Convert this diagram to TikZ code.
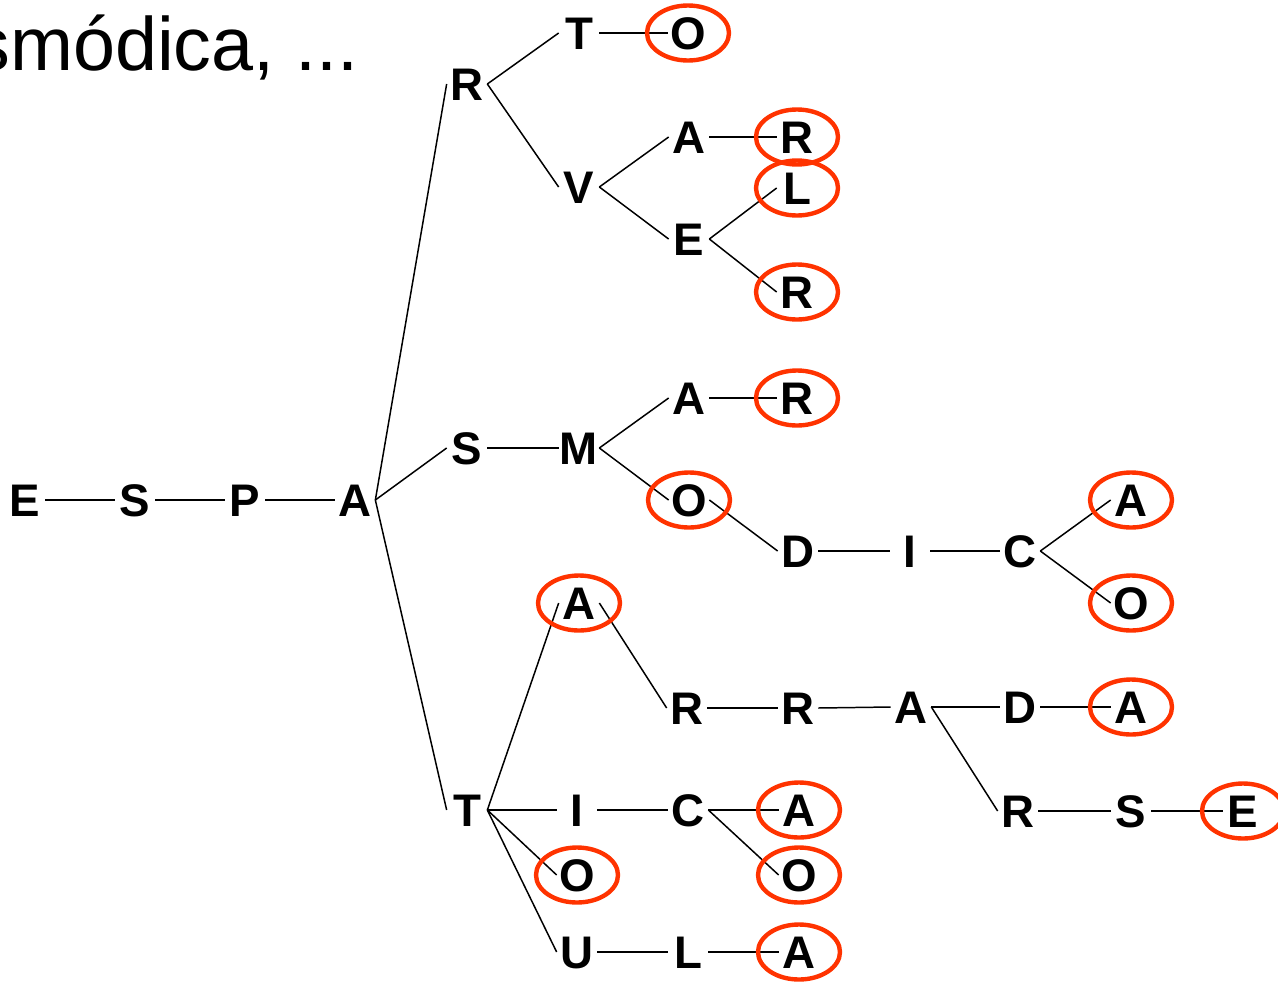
\documentclass[tikz,border=0pt]{standalone}
\usepackage{fontspec}
\setmainfont{Liberation Sans}
\definecolor{RingRed}{RGB}{255, 51, 0}

\begin{document}
\begin{tikzpicture}[x=0.02cm, y=-0.02cm,
    letter/.style={font=\fontsize{26}{26}\selectfont\bfseries, inner sep=0pt,
                   minimum width=0.8cm, text height=0.66cm, text depth=0pt},
    link/.style={line width=0.85pt, black},
    ring/.style={draw=RingRed, line width=2.5pt}]
    \useasboundingbox (0,0) rectangle (1278,981);

    % Heading, cut at the left edge
    \node[anchor=base east, inner sep=0pt, font=\fontsize{43}{43}\selectfont] (title) at (359,70) {smódica, ...};

    % Stem
    \node[letter] (e)    at (25,500)  {E};
    \node[letter] (es)   at (135,500) {S};
    \node[letter] (esp)  at (245,500) {P};
    \node[letter] (espa) at (355,500) {A};

    % Branch R
    \node[letter] (espar)    at (467,84)  {R};
    \node[letter] (espart)   at (579,33)  {T};
    \node[letter] (esparto)  at (688,33)  {O};
    \node[letter] (esparv)   at (579,187) {V};
    \node[letter] (esparva)  at (689,137) {A};
    \node[letter] (esparvar) at (797,137) {R};
    \node[letter] (esparve)  at (689,239) {E};
    \node[letter] (esparvel) at (797,188) {L};
    \node[letter] (esparver) at (797,292) {R};

    % Branch S
    \node[letter] (espas)       at (467,448)  {S};
    \node[letter] (espasm)      at (579,448)  {M};
    \node[letter] (espasma)     at (689,398)  {A};
    \node[letter] (espasmar)    at (797,398)  {R};
    \node[letter] (espasmo)     at (689,500)  {O};
    \node[letter] (espasmod)    at (798,551)  {D};
    \node[letter] (espasmodi)   at (910,551)  {I};
    \node[letter] (espasmodic)  at (1020,551) {C};
    \node[letter] (espasmodica) at (1131,500) {A};
    \node[letter] (espasmodico) at (1131,603) {O};

    % Branch T
    \node[letter] (espat)        at (467,810)  {T};
    \node[letter] (espata)       at (579,603)  {A};
    \node[letter] (espatar)      at (687,708)  {R};
    \node[letter] (espatarr)     at (798,708)  {R};
    \node[letter] (espatarra)    at (911,707)  {A};
    \node[letter] (espatarrad)   at (1020,707) {D};
    \node[letter] (espatarrada)  at (1131,707) {A};
    \node[letter] (espatarrar)   at (1018,811) {R};
    \node[letter] (espatarrars)  at (1131,811) {S};
    \node[letter] (espatarrarse) at (1243,811) {E};
    \node[letter] (espati)       at (577,810)  {I};
    \node[letter] (espatic)      at (688,810)  {C};
    \node[letter] (espatica)     at (799,810)  {A};
    \node[letter] (espatico)     at (799,875)  {O};
    \node[letter] (espato)       at (577,875)  {O};
    \node[letter] (espatu)       at (577,952)  {U};
    \node[letter] (espatul)      at (688,952)  {L};
    \node[letter] (espatula)     at (799,952)  {A};

    % Links, parent to child
    \foreach \a/\b in {e/es, es/esp, esp/espa,
        espa/espar, espar/espart, espart/esparto, espar/esparv,
        esparv/esparva, esparva/esparvar, esparv/esparve, esparve/esparvel, esparve/esparver,
        espa/espas, espas/espasm, espasm/espasma, espasma/espasmar, espasm/espasmo,
        espasmo/espasmod, espasmod/espasmodi, espasmodi/espasmodic,
        espasmodic/espasmodica, espasmodic/espasmodico,
        espa/espat, espat/espata, espata/espatar, espatar/espatarr, espatarr/espatarra,
        espatarra/espatarrad, espatarrad/espatarrada, espatarra/espatarrar,
        espatarrar/espatarrars, espatarrars/espatarrarse,
        espat/espati, espati/espatic, espatic/espatica, espatic/espatico,
        espat/espato, espat/espatu, espatu/espatul, espatul/espatula}
        \draw[link] (\a.east) -- (\b.west);

    % Red rings round the word ends
    \foreach \n in {esparto, esparvar, esparvel, esparver, espasmar, espasmo,
        espasmodica, espasmodico, espata, espatarrada, espatarrarse,
        espatica, espatico, espato, espatula}
        \draw[ring] (\n.center) ellipse [x radius=41, y radius=27.5];
\end{tikzpicture}
\end{document}
